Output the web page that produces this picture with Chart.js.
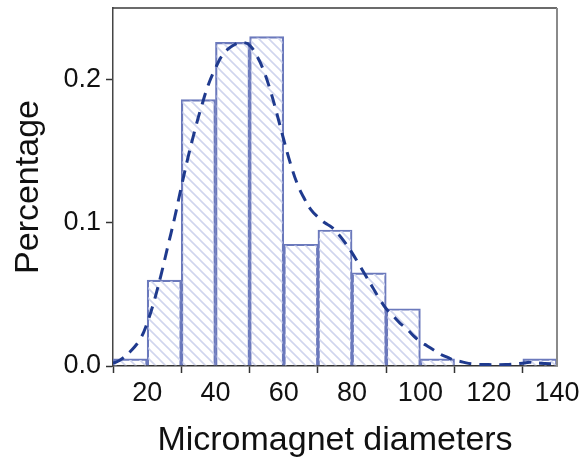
<!DOCTYPE html>
<html>
<head>
<meta charset="utf-8">
<script src="https://cdn.jsdelivr.net/npm/chart.js@4/dist/chart.umd.min.js"></script>
<style>
  html, body { margin: 0; padding: 0; background: #fff; }
  #wrap { width: 587px; height: 464px; }
</style>
</head>
<body>
<div id="wrap"><canvas id="c" width="587" height="464"></canvas></div>
<script>
// Histogram bins (lower edge of each 10-unit bin) and their fractions
const binStarts = [10, 20, 30, 40, 50, 60, 70, 80, 90, 100, 110, 120, 130];
const binWidth = 10;
const binFractions = [0.005, 0.060, 0.186, 0.226, 0.230, 0.085, 0.095, 0.065, 0.040, 0.005, 0, 0, 0.005];

// Smoothed density estimate (dashed curve)
const curveX = [10, 12, 15, 18, 20, 22, 24, 26, 28, 30, 32, 34, 36, 38, 40, 42, 44, 46, 48, 50,
                52, 54, 56, 58, 60, 62, 64, 66, 68, 70, 72, 74, 76, 78, 80, 82, 84, 86, 88, 90,
                92, 94, 96, 98, 100, 102, 104, 106, 108, 110, 112, 115, 120, 125, 130, 132, 135, 140];
const curveY = [0.002, 0.004, 0.010, 0.019, 0.030, 0.045, 0.063, 0.083, 0.103, 0.125, 0.146, 0.165, 0.182, 0.197, 0.208, 0.217, 0.222, 0.225, 0.226, 0.224,
                0.217, 0.207, 0.193, 0.176, 0.158, 0.141, 0.127, 0.117, 0.109, 0.104, 0.100, 0.097, 0.092, 0.086, 0.079, 0.071, 0.063, 0.055, 0.047, 0.040,
                0.035, 0.030, 0.026, 0.021, 0.017, 0.014, 0.011, 0.008, 0.006, 0.004, 0.003, 0.0015, 0.001, 0.001, 0.002, 0.0026, 0.002, 0.0014];

// Axis ticks
const xTicks = [20, 40, 60, 80, 100, 120, 140];
const yTicks = [0.0, 0.1, 0.2];

// Diagonal hatch fill for the bars
function makeHatch() {
  const s = 10;
  const p = document.createElement('canvas');
  p.width = s; p.height = s;
  const g = p.getContext('2d');
  g.strokeStyle = '#d0d5ee';
  g.lineWidth = 1.6;
  g.beginPath();
  g.moveTo(0, 0); g.lineTo(s, s);
  g.moveTo(-s / 2, s / 2); g.lineTo(s / 2, s * 1.5);
  g.moveTo(s / 2, -s / 2); g.lineTo(s * 1.5, s / 2);
  g.stroke();
  return g.createPattern(p, 'repeat');
}

// Top and right edges of the plot frame
const framePlugin = {
  id: 'frame',
  afterDatasetsDraw(chart) {
    const { ctx, chartArea: a } = chart;
    ctx.save();
    ctx.lineWidth = 1.5;
    ctx.strokeStyle = '#3a3a3a';
    ctx.beginPath();
    ctx.moveTo(a.left, a.top); ctx.lineTo(a.right, a.top);
    ctx.stroke();
    ctx.strokeStyle = '#8a8a8a';
    ctx.lineWidth = 2;
    ctx.beginPath();
    ctx.moveTo(a.right, a.top); ctx.lineTo(a.right, a.bottom);
    ctx.stroke();
    ctx.restore();
  }
};

const font = "'Liberation Sans', Arial, sans-serif";

new Chart(document.getElementById('c'), {
  data: {
    datasets: [
      {
        type: 'bar',
        data: binStarts.map((s, i) => ({ x: s + binWidth / 2, y: binFractions[i] })),
        backgroundColor: makeHatch(),
        borderColor: '#6b79bc',
        borderWidth: 1.5,
        borderSkipped: 'bottom',
        barPercentage: 1,
        categoryPercentage: 1,
        order: 2
      },
      {
        type: 'line',
        data: curveX.map((x, i) => ({ x: x, y: curveY[i] })),
        borderColor: '#1f3a8e',
        borderWidth: 3,
        borderDash: [12, 8],
        pointRadius: 0,
        tension: 0.4,
        fill: false,
        order: 1
      }
    ]
  },
  options: {
    responsive: false,
    animation: false,
    layout: { padding: { top: 8, right: 30, left: 0, bottom: 0 } },
    plugins: { legend: { display: false }, tooltip: { enabled: false } },
    scales: {
      x: {
        type: 'linear',
        min: 10,
        max: 140,
        offset: false,
        afterBuildTicks: s => { s.ticks = xTicks.map(v => ({ value: v })); },
        afterFit: s => { s.height = 98; s.paddingLeft = 0; s.paddingRight = 0; },
        ticks: { color: '#111', font: { family: font, size: 27 }, padding: 4, maxRotation: 0 },
        grid: { drawOnChartArea: false, tickLength: 7, tickColor: '#333', tickWidth: 1.5 },
        border: { color: '#333', width: 1.5 },
        title: { display: true, text: 'Micromagnet diameters', color: '#111',
                 font: { family: font, size: 34 }, padding: { top: 0, bottom: 3 } }
      },
      y: {
        min: 0,
        max: 0.25,
        afterBuildTicks: s => { s.ticks = yTicks.map(v => ({ value: v })); },
        afterFit: s => { s.width = 113; s.paddingTop = 0; s.paddingBottom = 0; },
        ticks: { color: '#111', font: { family: font, size: 27 }, padding: 5,
                 callback: v => Number(v).toFixed(1) },
        grid: { drawOnChartArea: false, tickLength: 7, tickColor: '#333', tickWidth: 1.5 },
        border: { color: '#444', width: 1.5 },
        title: { display: true, text: 'Percentage', color: '#111',
                 font: { family: font, size: 34 }, padding: { top: 8, bottom: 0 } }
      }
    }
  },
  plugins: [framePlugin]
});
</script>
</body>
</html>
